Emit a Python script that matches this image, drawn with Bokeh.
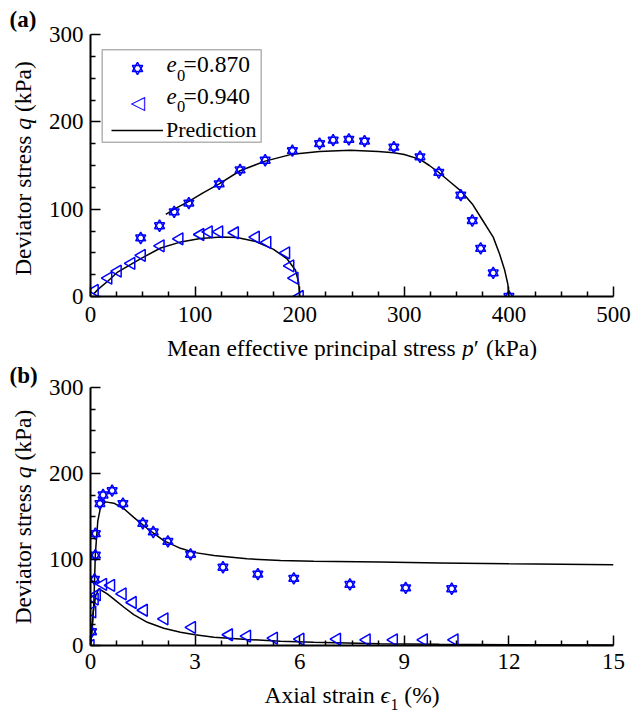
import math
from bokeh.plotting import figure
from bokeh.layouts import column, row
from bokeh.models import (FixedTicker, Label, Legend, LegendItem, BoxAnnotation, Range1d, Title)
from bokeh.embed import file_html
from bokeh.resources import INLINE

# ---------------- data ----------------
# panel (a): q vs p'
a_p_870 = [48, 66, 80, 94, 123, 143, 167, 193, 219, 232, 247, 262, 290, 315, 333, 354, 365, 373, 385, 400]
a_q_870 = [67, 81, 97, 107, 129, 145, 156, 167, 175, 179, 180, 178, 171, 160, 142, 116, 87, 55, 27, 0]
a_p_940 = [4, 17, 26, 39, 49, 67, 85, 105, 113, 123, 138, 158, 169, 187, 191, 195, 200]
a_q_940 = [7, 21, 29, 38, 47, 58, 66, 71, 74, 74, 73, 68, 62, 50, 35, 21, 0]
a_pred_p_870 = [72, 80, 94, 108, 123, 143, 167, 193, 219, 248, 275, 290, 300, 315, 324, 333, 345, 354, 365, 375, 385, 391, 396, 399, 400]
a_pred_q_870 = [94, 100, 109, 119, 129, 144, 155, 163, 166, 167.5, 166, 164.5, 162.5, 157, 150, 142, 130, 121, 106, 87, 68, 49, 30, 14, 0]
a_pred_p_940 = [3, 8, 17, 26, 39, 49, 67, 85, 105, 125, 140, 158, 175, 188, 196, 199, 200]
a_pred_q_940 = [3, 9, 18, 28, 37, 44, 55.5, 62, 66.5, 68, 67.5, 63, 54, 43, 30, 16, 0]

# panel (b): q vs axial strain
b_eps_870 = [0.03, 0.115, 0.14, 0.14, 0.27, 0.36, 0.62, 0.93, 1.5, 1.8, 2.22, 2.87, 3.8, 4.8, 5.83, 7.44, 9.04, 10.36]
b_q_870 = [16, 77, 105, 130, 165, 175, 180, 165, 142, 132, 121, 106, 91, 83, 78, 71, 67, 66]
b_eps_940 = [0, 0.05, 0.12, 0.18, 0.36, 0.59, 0.92, 1.21, 1.53, 2.12, 2.91, 3.97, 4.49, 5.26, 6.02, 7.07, 7.92, 8.7, 9.56, 10.44]
b_q_940 = [0, 39, 54, 59, 71, 70, 60, 50, 41, 31, 21, 12.5, 11, 8.5, 7.3, 7.3, 6.6, 6.6, 6.6, 6.6]
b_pred_eps_870 = [0, 0.05, 0.095, 0.14, 0.21, 0.29, 0.43, 0.67, 0.96, 1.24, 1.63, 2.1, 2.58, 3.0, 3.54, 4.49, 5.45, 6.4, 8.3, 10, 12, 15]
b_pred_q_870 = [0, 20, 48, 107, 145, 161, 167, 165.5, 159, 149, 136, 122, 113, 108, 104.7, 100.8, 98.8, 98, 97, 96, 95, 94]
b_pred_eps_940 = [0, 0.03, 0.08, 0.15, 0.24, 0.48, 0.67, 0.96, 1.24, 1.63, 2.1, 2.58, 3.0, 3.54, 4.49, 5.45, 6.4, 8.3, 10, 12, 15]
b_pred_q_940 = [0, 15, 40, 58, 66, 60, 54, 44.5, 36, 27, 20, 15.5, 12.5, 9.7, 7, 5, 3.9, 2, 1.5, 1, 0.5]

a_xticks = [0, 100, 200, 300, 400, 500]
b_xticks = [0, 3, 6, 9, 12, 15]
yticks = [0, 100, 200, 300]
legend_labels = ["0.870", "0.940", "Prediction"]

# ---------------- style ----------------
BLUE = "#0000ff"
FONT = "Liberation Serif, DejaVu Serif, serif"
TICK_FS = "23px"
LAB_FS = 23.5
LW = 42           # width of the left label strip
W_MAIN = 631 - LW
KMID = 0.33       # distance from alphabetic baseline up to the em-box middle (em)

# Times / Liberation Serif advance widths (em)
CW = {' ': .25, '(': .333, ')': .333, '%': .833, 'A': .722, 'D': .722, 'M': .889, 'P': .556,
      'a': .444, 'c': .444, 'e': .444, 'f': .333, 'i': .278, 'k': .5, 'l': .278, 'n': .5,
      'o': .5, 'p': .5, 'q': .5, 'r': .333, 's': .389, 't': .278, 'v': .5, 'x': .5,
      '\u2032': .275, '\u03f5': .42, '=': .564, '.': .25}


def tw(s, size):
    return sum(CW.get(c, .5) for c in s) * size


def minor(lo, hi, step, majors):
    out = []
    v = lo
    while v <= hi + 1e-9:
        if all(abs(v - m) > 1e-9 for m in majors):
            out.append(round(v, 4))
        v += step
    return out


def make_fig(height, top, frame_h, xr, xt, xstep, xstandoff):
    p = figure(width=W_MAIN, height=height, output_backend="svg", toolbar_location=None,
               x_range=Range1d(*xr), y_range=Range1d(0, 300),
               min_border_left=90 - LW, min_border_right=18, min_border_top=top,
               min_border_bottom=height - top - frame_h)
    p.outline_line_color = None
    p.grid.visible = False
    for ax in (p.xaxis[0], p.yaxis[0]):
        ax.axis_line_width = 2
        ax.axis_line_color = "black"
        ax.major_tick_in = 10
        ax.major_tick_out = 0
        ax.minor_tick_in = 5
        ax.minor_tick_out = 0
        ax.major_tick_line_width = 1.5
        ax.minor_tick_line_width = 1.5
        ax.major_tick_line_color = "black"
        ax.minor_tick_line_color = "black"
        ax.major_label_text_font = FONT
        ax.major_label_text_font_size = TICK_FS
        ax.major_label_text_font_style = "normal"
        ax.major_label_text_color = "black"
    p.xaxis[0].major_label_standoff = xstandoff
    p.yaxis[0].major_label_standoff = 7
    p.xaxis[0].ticker = FixedTicker(ticks=xt, minor_ticks=minor(xr[0], xr[1], xstep, xt))
    p.yaxis[0].ticker = FixedTicker(ticks=yticks, minor_ticks=minor(0, 300, 25, yticks))
    return p


def strip(width, height, title=None, standoff=0):
    p = figure(width=width, height=height, output_backend="svg", toolbar_location=None,
               x_axis_type=None, y_axis_type=None, x_range=Range1d(0, 1), y_range=Range1d(0, 1),
               min_border=0, min_border_left=0, min_border_right=0, min_border_top=0,
               min_border_bottom=0)
    p.outline_line_color = None
    p.grid.visible = False
    if title:
        p.title = Title(text=title, align="left", offset=9, text_font=FONT,
                        text_font_size="23px", text_font_style="bold", text_color="black",
                        vertical_align="bottom", standoff=standoff)
    return p


def lab(p, sx, sy, text, size, style="normal", angle=0.0, align="left",
        color="black", font=FONT):
    # (sx, sy) is the alphabetic baseline point; text is anchored at its em-box middle
    if angle:
        sx = sx - KMID * size
    else:
        sy = sy + KMID * size
    p.add_layout(Label(x=sx, y=sy, x_units="screen", y_units="screen", text=text,
                       text_font=font, text_font_size=f"{size}px", text_font_style=style,
                       text_color=color, angle=angle, text_align=align,
                       text_baseline="middle"))


def run_label(p, pieces, start, fixed, size, vertical):
    # pieces: (text, style, size_factor, baseline shift, gap_after_em)
    pos = start
    for text, style, fac, shift, gap in pieces:
        s = size * fac
        if vertical:
            lab(p, fixed + shift, pos, text, s, style, angle=math.pi / 2)
        else:
            lab(p, pos, fixed - shift, text, s, style)
        pos += tw(text, s) + gap * size


def run_width(pieces, size):
    return sum(tw(t, size * f) + g * size for t, _, f, _, g in pieces)


ylab_pieces = [("Deviator stress", "normal", 1, 0, .25), ("q", "italic", 1, 0, .25),
               ("(kPa)", "normal", 1, 0, 0)]
yw = run_width(ylab_pieces, LAB_FS)

# ---------------- panel (a) ----------------
HA = 334                      # canvas rows 0..334
pa = make_fig(HA, 34, 262, (0, 500), a_xticks, 25, 10)
fb_a = 296                    # canvas y of frame bottom
pa.line(a_pred_p_870, a_pred_q_870, line_color="black", line_width=1.5)
r_line = pa.line(a_pred_p_940, a_pred_q_940, line_color="black", line_width=1.5)
r_s1 = pa.scatter(a_p_870, a_q_870, marker="triangle", size=10, fill_color=None,
                  line_color=BLUE, line_width=1.5)
r_s2 = pa.scatter(a_p_870, a_q_870, marker="inverted_triangle", size=10, fill_color=None,
                  line_color=BLUE, line_width=1.5)
pa.scatter(a_p_940, a_q_940, marker="triangle", angle=math.pi / 2, size=12,
           fill_color=None, line_color=BLUE, line_width=1.5)
r_dummy = pa.scatter(x=[], y=[], marker="square", line_alpha=0, fill_alpha=0)

pa.add_layout(BoxAnnotation(left=11.7, right=170.7, top=fb_a - 49.3, bottom=fb_a - 141.7,
                            left_units="screen", right_units="screen",
                            top_units="screen", bottom_units="screen",
                            fill_color="white", fill_alpha=1, line_color="black",
                            line_width=1.5))
leg = Legend(items=[LegendItem(label=" ", renderers=[r_s1, r_s2]),
                    LegendItem(label=" ", renderers=[r_dummy]),
                    LegendItem(label=legend_labels[2], renderers=[r_line])],
             location=(21, fb_a - 143), orientation="vertical", padding=0, margin=0,
             spacing=5, glyph_width=52, glyph_height=26, label_height=26,
             label_standoff=3, label_text_font=FONT, label_text_font_size="22px",
             label_text_font_style="normal",
             label_text_color="black", border_line_color=None, background_fill_alpha=0)
pa.add_layout(leg)
pa.add_layout(Label(x=137 - 90, y=fb_a - 101, x_units="screen", y_units="screen",
                    text="\u25c1", text_font="DejaVu Sans", text_font_size="19px",
                    text_font_style="bold", text_color=BLUE, text_align="center",
                    text_baseline="middle"))
for txt, base in ((legend_labels[0], 71.7), (legend_labels[1], 103.3)):
    lab(pa, 166 - 90, fb_a - base, "e", 23, "italic")
    lab(pa, 176.5 - 90, fb_a - base - 8.3, "0", 16.5)
    lab(pa, 183 - 90, fb_a - base, "=", 23.5)
    lab(pa, 196.5 - 90, fb_a - base, txt, 23.5)

# left strip: its frame is aligned with the main frame (rows 34..296)
la = strip(LW, HA, "(a)", 6)
run_label(la, ylab_pieces, fb_a - (168 + yw / 2), 30, LAB_FS, True)

Y0B = 360
xa = strip(631, Y0B - HA)     # canvas rows 334..360
xa_pieces = [("Mean effective principal stress", "normal", 1, 0, .25), ("p", "italic", 1, 0, 0),
             ("\u2032", "normal", 1, 0, .25), ("(kPa)", "normal", 1, 0, 0)]
xw = run_width(xa_pieces, LAB_FS)
run_label(xa, xa_pieces, 351.5 - xw / 2, Y0B - 355, LAB_FS, False)

# ---------------- panel (b) ----------------
Y1B = 681
HB = Y1B - Y0B                # canvas rows 360..681
pb = make_fig(HB, 387 - Y0B, 258, (0, 15), b_xticks, 0.75, 8)
fb_b = 645
pb.line(b_pred_eps_870, b_pred_q_870, line_color="black", line_width=1.5)
pb.line(b_pred_eps_940, b_pred_q_940, line_color="black", line_width=1.5)
pb.scatter(b_eps_870, b_q_870, marker="triangle", size=10, fill_color=None,
           line_color=BLUE, line_width=1.5)
pb.scatter(b_eps_870, b_q_870, marker="inverted_triangle", size=10, fill_color=None,
           line_color=BLUE, line_width=1.5)
pb.scatter(b_eps_940, b_q_940, marker="triangle", angle=math.pi / 2, size=12,
           fill_color=None, line_color=BLUE, line_width=1.5)

lb = strip(LW, HB, "(b)", 0)
run_label(lb, ylab_pieces, fb_b - (516.5 + yw / 2), 30, LAB_FS, True)

xb = strip(631, 711 - Y1B)    # canvas rows 681..711
xb_pieces = [("Axial strain", "normal", 1, 0, .25), ("\u03f5", "italic", 1, 0, 0),
             ("1", "normal", 16 / LAB_FS, 7, .25), ("(%)", "normal", 1, 0, 0)]
xbw = run_width(xb_pieces, LAB_FS)
run_label(xb, xb_pieces, 351.5 - xbw / 2, 711 - 702, LAB_FS, False)

layout = column(row(la, pa, spacing=0), xa, row(lb, pb, spacing=0), xb, spacing=0)
open("out.html", "w").write(file_html(layout, INLINE))
